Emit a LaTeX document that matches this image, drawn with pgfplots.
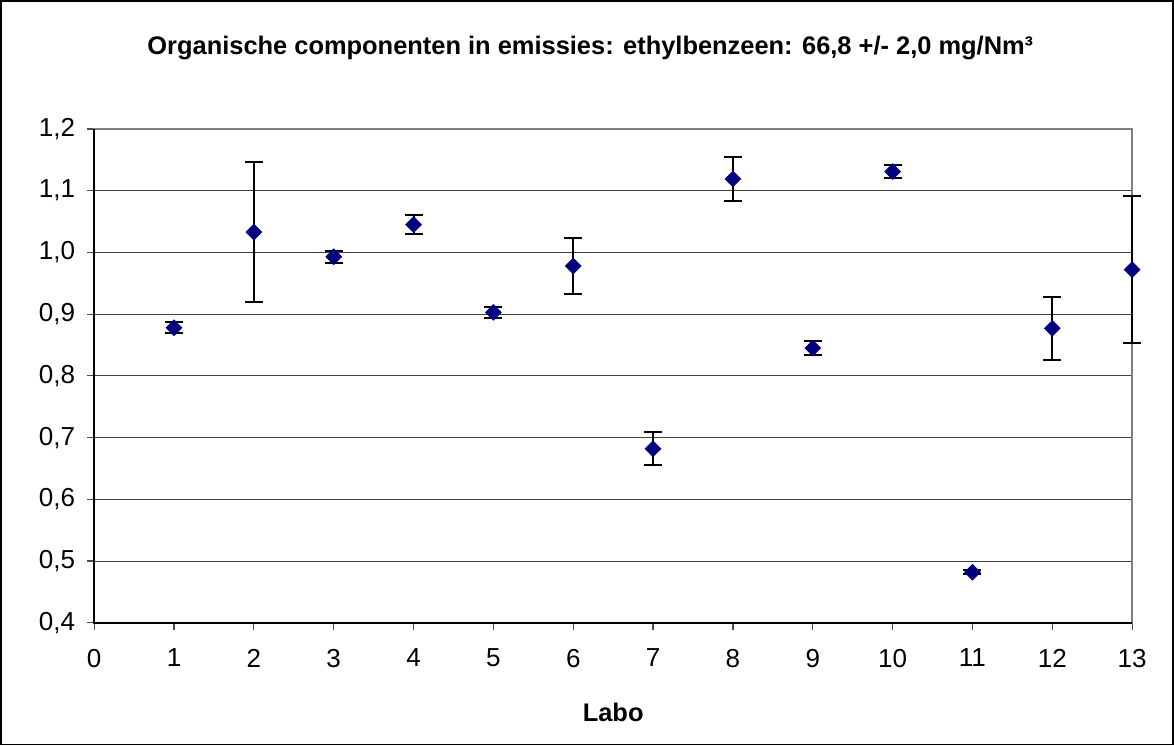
\documentclass[border=0pt]{standalone}
\usepackage{fontspec}
\setmainfont{Liberation Sans}
\usepackage{pgfplots}
\pgfplotsset{compat=1.18}
\definecolor{navy}{HTML}{000080}

\begin{document}
\begin{tikzpicture}
\begin{axis}[
    scale only axis,
    width=518.35pt, height=246.65pt,
    xmin=0, xmax=13, ymin=0.4, ymax=1.2,
    xtick={0,...,13}, ytick={0.4,0.5,...,1.2},
    xtick pos=bottom, ytick pos=left,
    tick align=outside,
    major tick length=3.5pt,
    tick style={black!70, line width=0.6pt},
    ymajorgrids, grid style={black!75, line width=0.5pt},
    axis line style={draw=gray, line width=1pt},
    /pgf/number format/assume math mode=true,
    /pgf/number format/use comma,
    yticklabel style={/pgf/number format/fixed, /pgf/number format/fixed zerofill, /pgf/number format/precision=1},
    tick label style={font=\fontsize{13}{15}\selectfont},
    xticklabel style={yshift=-6pt},
    yticklabel style={xshift=-2.5pt},
    xlabel={\textbf{Labo}},
    xlabel style={at={(0.5,-0.182)}, anchor=center, font=\fontsize{12.7}{15}\selectfont},
    title={\textbf{Organische componenten in emissies: ethylbenzeen: 66,8 +/- 2,0 mg/Nm³}},
    title style={at={(0.478,1.140)}, anchor=center, font=\fontsize{12.7}{15}\selectfont},
    clip=false,
]
\addplot[only marks, mark=square*, mark size=2.75pt,
    mark options={rotate=45, fill=navy, draw=navy},
    error bars/.cd, y dir=both, y explicit,
    error bar style={black, line width=1pt},
    error mark options={rotate=90, black, line width=1pt, mark size=4.5pt}]
coordinates {
    (1,0.878)  +- (0,0.009)
    (2,1.033)  +- (0,0.114)
    (3,0.993)  +- (0,0.010)
    (4,1.045)  +- (0,0.015)
    (5,0.903)  +- (0,0.009)
    (6,0.978)  +- (0,0.045)
    (7,0.682)  +- (0,0.027)
    (8,1.119)  +- (0,0.035)
    (9,0.845)  +- (0,0.011)
    (10,1.131) +- (0,0.011)
    (11,0.482) +- (0,0.003)
    (12,0.877) +- (0,0.051)
    (13,0.972) +- (0,0.119)
};
\draw[black, line width=1pt] (rel axis cs:0,1) -- (rel axis cs:0,0) -- (rel axis cs:1,0);
\draw[black, line width=0.8pt] (rel axis cs:-0.09,-0.2467) rectangle (rel axis cs:1.0396,1.2595);
\end{axis}
\end{tikzpicture}
\end{document}
